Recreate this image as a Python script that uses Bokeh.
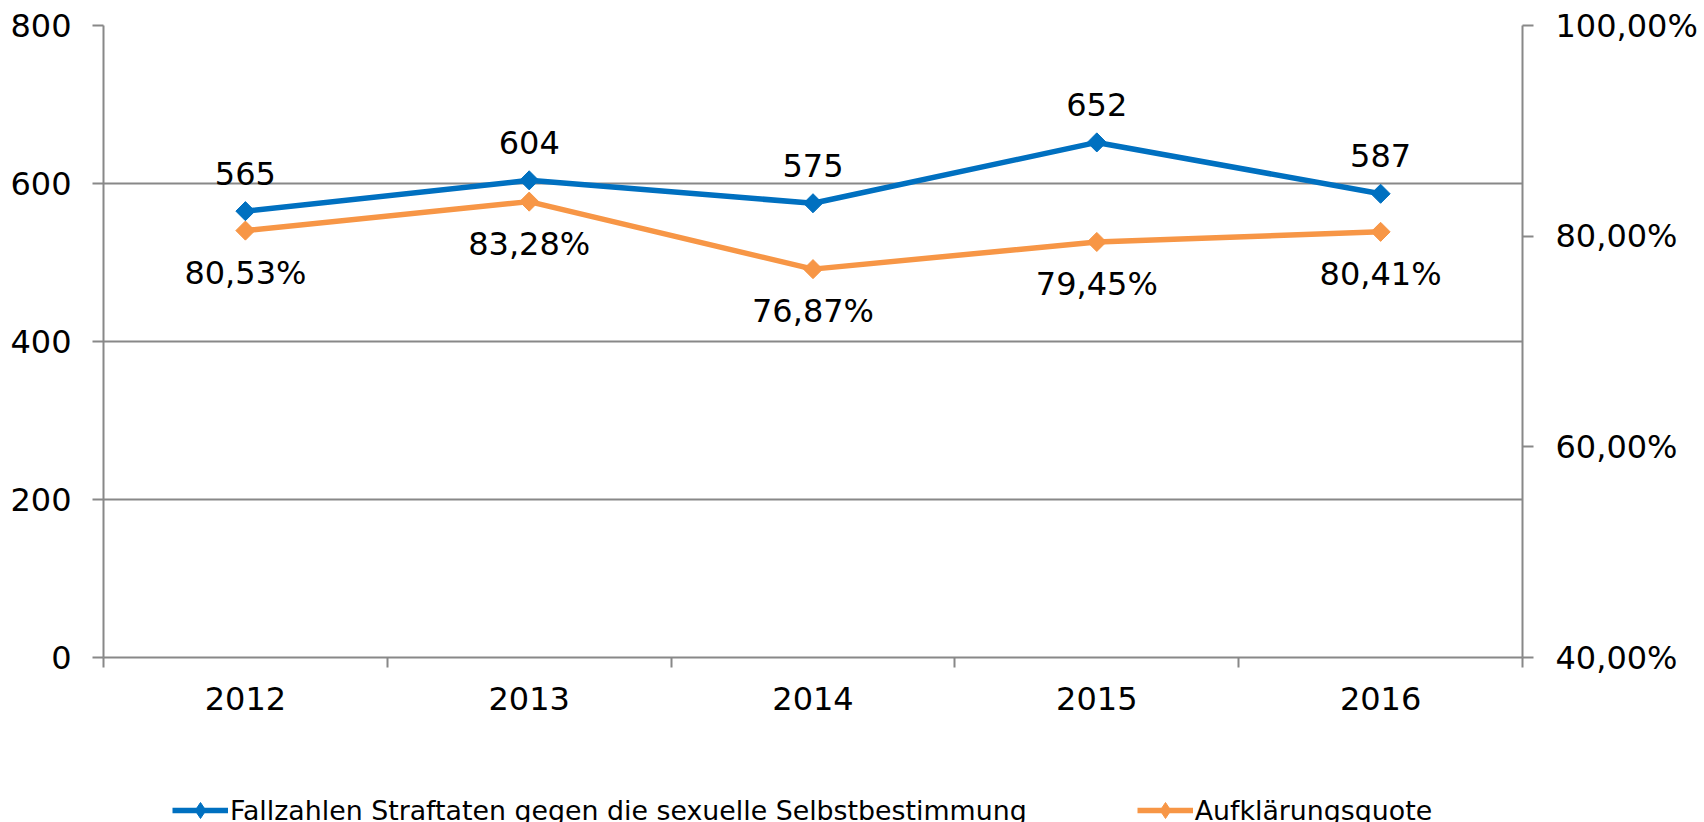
import math
from bokeh.plotting import figure
from bokeh.layouts import column
from bokeh.models import (Range1d, LinearAxis, FixedTicker, ColumnDataSource,
                          LabelSet, Legend, LegendItem)
from bokeh.core.properties import value
from bokeh.embed import file_html
from bokeh.resources import INLINE

years = ["2012", "2013", "2014", "2015", "2016"]
cases = [565, 604, 575, 652, 587]
quote = [80.53, 83.28, 76.87, 79.45, 80.41]
left_ticks = [0, 200, 400, 600, 800]
right_ticks = [40, 60, 80, 100]
series_names = ["Fallzahlen Straftaten gegen die sexuelle Selbstbestimmung", "Aufklärungsquote"]

BLUE = "#0070C0"
ORANGE = "#F79646"
GREY = "#888888"
FONT = "DejaVu Sans"
FS = "32px"

xs = [i + 0.5 for i in range(len(years))]

src = ColumnDataSource(dict(
    x=xs, cases=cases, quote=quote,
    cases_lbl=[str(v) for v in cases],
    quote_lbl=[("%.2f" % v).replace(".", ",") + "%" for v in quote],
))

p = figure(width=1704, height=765, output_backend="svg", toolbar_location=None,
           x_range=Range1d(0, len(years)), y_range=Range1d(0, 800),
           min_border_left=103, min_border_right=182, min_border_top=25,
           min_border_bottom=108)
p.outline_line_color = None
p.background_fill_color = "white"
p.border_fill_color = "white"

p.extra_y_ranges = {"pct": Range1d(40, 100)}

# grid
p.xgrid.visible = False
p.ygrid.grid_line_color = GREY
p.ygrid.grid_line_width = 2

# x axis
xa = p.xaxis[0]
xa.ticker = FixedTicker(ticks=xs, minor_ticks=list(range(len(years) + 1)))
xa.major_label_overrides = {x: y for x, y in zip(xs, years)}
xa.major_tick_out = 0
xa.major_tick_in = 0
xa.minor_tick_out = 10
xa.minor_tick_in = 0
xa.minor_tick_line_color = GREY
xa.minor_tick_line_width = 2
xa.axis_line_color = GREY
xa.axis_line_width = 2
xa.major_label_text_font = FONT
xa.major_label_text_font_size = FS
xa.major_label_text_color = "black"
xa.major_label_standoff = 19

# left axis
ya = p.yaxis[0]
ya.ticker = FixedTicker(ticks=left_ticks, minor_ticks=[])
ya.major_tick_out = 11
ya.major_tick_in = 0
ya.major_tick_line_color = GREY
ya.major_tick_line_width = 2
ya.axis_line_color = GREY
ya.axis_line_width = 2
ya.major_label_text_font = FONT
ya.major_label_text_font_size = FS
ya.major_label_text_color = "black"
ya.major_label_standoff = 21

# right axis
ra = LinearAxis(y_range_name="pct")
ra.ticker = FixedTicker(ticks=right_ticks, minor_ticks=[])
ra.major_label_overrides = {t: ("%.2f" % t).replace(".", ",") + "%" for t in right_ticks}
ra.major_tick_out = 11
ra.major_tick_in = 0
ra.major_tick_line_color = GREY
ra.major_tick_line_width = 2
ra.axis_line_color = GREY
ra.axis_line_width = 2
ra.major_label_text_font = FONT
ra.major_label_text_font_size = FS
ra.major_label_text_color = "black"
ra.major_label_standoff = 22
p.add_layout(ra, "right")

# series
p.line("x", "cases", source=src, line_color=BLUE, line_width=5.5)
p.scatter("x", "cases", source=src, marker="square", angle=math.pi / 4,
          size=13.5, fill_color=BLUE, line_color=BLUE)
p.line("x", "quote", source=src, line_color=ORANGE, line_width=5.5, y_range_name="pct")
p.scatter("x", "quote", source=src, marker="square", angle=math.pi / 4,
          size=13.5, fill_color=ORANGE, line_color=ORANGE, y_range_name="pct")

lab1 = LabelSet(x="x", y="cases", text="cases_lbl", source=src, y_offset=38,
                text_align="center", text_baseline="middle", text_font=value(FONT),
                text_font_size=value(FS), text_color="black")
lab2 = LabelSet(x="x", y="quote", text="quote_lbl", source=src, y_offset=-42,
                y_range_name="pct", text_align="center", text_baseline="middle",
                text_font=value(FONT), text_font_size=value(FS), text_color="black")
p.add_layout(lab1)
p.add_layout(lab2)

# legend strip: small figure whose renderers reuse the series data but lie
# outside its visible range, so only the legend samples show
lp = figure(width=1704, height=57, output_backend="svg", toolbar_location=None,
            x_range=Range1d(0, 1), y_range=Range1d(-2, -1),
            x_axis_location=None, y_axis_location=None,
            min_border=0, min_border_left=0, min_border_right=0,
            min_border_top=0, min_border_bottom=0)
lp.outline_line_color = None
lp.xgrid.visible = False
lp.ygrid.visible = False
g1 = lp.line("x", "cases", source=src, line_color=BLUE, line_width=5.5)
s1 = lp.scatter("x", "cases", source=src, marker="diamond",
                size=16, fill_color=BLUE, line_color=BLUE)
g2 = lp.line("x", "quote", source=src, line_color=ORANGE, line_width=5.5)
s2 = lp.scatter("x", "quote", source=src, marker="diamond",
                size=16, fill_color=ORANGE, line_color=ORANGE)

legend = Legend(items=[LegendItem(label=series_names[0], renderers=[g1, s1]),
                       LegendItem(label=series_names[1], renderers=[g2, s2])],
                location=(69, -8), orientation="horizontal",
                padding=0, margin=0, border_line_color=None,
                background_fill_alpha=0, glyph_width=56, glyph_height=40,
                label_height=40, label_standoff=2, spacing=110,
                label_text_font=FONT, label_text_font_size="26.8px",
                label_text_color="black")
lp.add_layout(legend, "center")

open("out.html", "w").write(file_html(column(p, lp, spacing=0), INLINE))
